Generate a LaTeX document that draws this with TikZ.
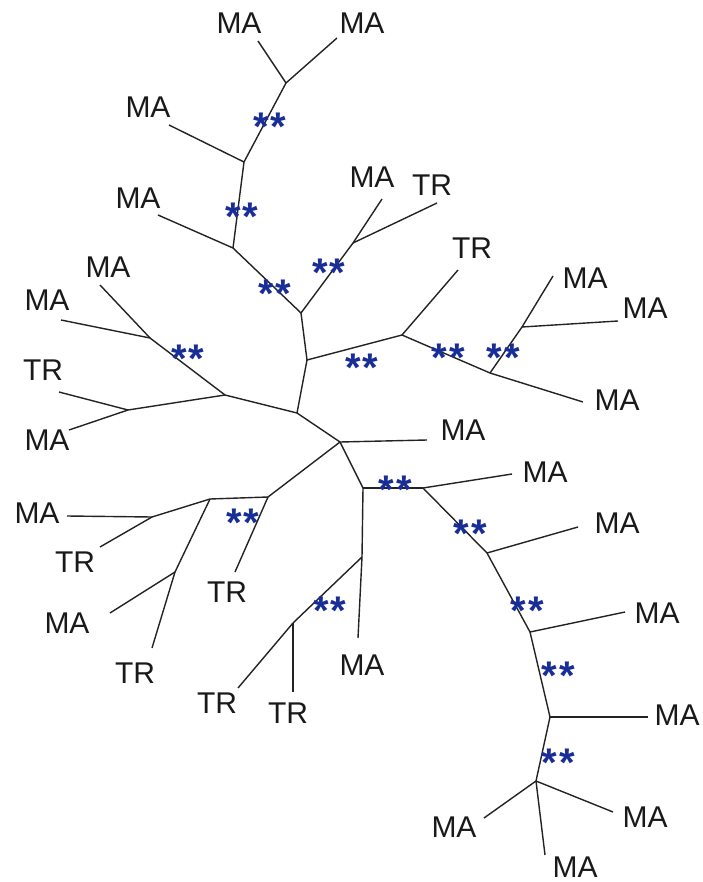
\documentclass[tikz,border=0pt]{standalone}
\usepackage{fontspec}
\setmainfont{Liberation Sans}
\definecolor{branch}{RGB}{35,35,35}
\definecolor{starblue}{RGB}{25,45,150}
\tikzset{
  edge/.style={draw=branch, line width=1.4pt},
  lab/.style={inner sep=0pt, font=\fontsize{30}{34}\selectfont, text=black!90},
  stars/.style={inner sep=0pt, anchor=base, text=starblue, font=\fontsize{40}{44}\selectfont\bfseries}
}
\newcommand{\twostars}{*\hspace{2pt}*}
\begin{document}
\begin{tikzpicture}[x=1pt,y=-1pt]
\useasboundingbox (0,0) rectangle (702,882);
% internal nodes
\coordinate (nA) at (286,83);
\coordinate (nB) at (244,162);
\coordinate (nC) at (233,248);
\coordinate (nI) at (301,313);
\coordinate (nD) at (353,243);
\coordinate (nJ) at (307,360);
\coordinate (nL) at (402,335);
\coordinate (nM) at (490,373);
\coordinate (nN) at (522,327);
\coordinate (nH) at (297,413);
\coordinate (nE) at (150,338);
\coordinate (nF) at (225,395);
\coordinate (nG) at (128,410);
\coordinate (nK) at (340,442);
\coordinate (nS) at (268,497);
\coordinate (nT) at (210,499);
\coordinate (nU) at (152,517);
\coordinate (nV) at (175,572);
\coordinate (nP) at (363,488);
\coordinate (nQ) at (362,557);
\coordinate (nR) at (293,623);
\coordinate (nW) at (423,488);
\coordinate (nX) at (487,553);
\coordinate (nY) at (530,632);
\coordinate (nZ) at (550,717);
\coordinate (nAA) at (536,781);
% leaf ends
\coordinate (l1) at (258,41);
\coordinate (l2) at (337,38);
\coordinate (l3) at (169,125);
\coordinate (l4) at (158,215);
\coordinate (l5) at (382,199);
\coordinate (l6) at (437,203);
\coordinate (l7) at (458,270);
\coordinate (l8) at (583,402);
\coordinate (l9) at (553,276);
\coordinate (l10) at (618,321);
\coordinate (l11) at (100,285);
\coordinate (l12) at (61,320);
\coordinate (l13) at (59,392);
\coordinate (l14) at (69,430);
\coordinate (l15) at (427,440);
\coordinate (l16) at (235,572);
\coordinate (l17) at (67,516);
\coordinate (l18) at (100,547);
\coordinate (l19) at (110,613);
\coordinate (l20) at (152,648);
\coordinate (l21) at (358,638);
\coordinate (l22) at (238,688);
\coordinate (l23) at (293,692);
\coordinate (l24) at (512,474);
\coordinate (l25) at (578,527);
\coordinate (l26) at (625,612);
\coordinate (l27) at (648,717);
\coordinate (l28) at (484,818);
\coordinate (l29) at (613,812);
\coordinate (l30) at (545,855);
% branches
\draw[edge] (nA) -- (l1);
\draw[edge] (nA) -- (l2);
\draw[edge] (nA) -- (nB);
\draw[edge] (nB) -- (l3);
\draw[edge] (nB) -- (nC);
\draw[edge] (nC) -- (l4);
\draw[edge] (nC) -- (nI);
\draw[edge] (nI) -- (nD);
\draw[edge] (nD) -- (l5);
\draw[edge] (nD) -- (l6);
\draw[edge] (nI) -- (nJ);
\draw[edge] (nJ) -- (nL);
\draw[edge] (nL) -- (l7);
\draw[edge] (nL) -- (nM);
\draw[edge] (nM) -- (l8);
\draw[edge] (nM) -- (nN);
\draw[edge] (nN) -- (l9);
\draw[edge] (nN) -- (l10);
\draw[edge] (nJ) -- (nH);
\draw[edge] (nH) -- (nF);
\draw[edge] (nF) -- (nE);
\draw[edge] (nE) -- (l11);
\draw[edge] (nE) -- (l12);
\draw[edge] (nF) -- (nG);
\draw[edge] (nG) -- (l13);
\draw[edge] (nG) -- (l14);
\draw[edge] (nH) -- (nK);
\draw[edge] (nK) -- (l15);
\draw[edge] (nK) -- (nS);
\draw[edge] (nS) -- (l16);
\draw[edge] (nS) -- (nT);
\draw[edge] (nT) -- (nU);
\draw[edge] (nU) -- (l17);
\draw[edge] (nU) -- (l18);
\draw[edge] (nT) -- (nV);
\draw[edge] (nV) -- (l19);
\draw[edge] (nV) -- (l20);
\draw[edge] (nK) -- (nP);
\draw[edge] (nP) -- (nQ);
\draw[edge] (nQ) -- (l21);
\draw[edge] (nQ) -- (nR);
\draw[edge] (nR) -- (l22);
\draw[edge] (nR) -- (l23);
\draw[edge] (nP) -- (nW);
\draw[edge] (nW) -- (l24);
\draw[edge] (nW) -- (nX);
\draw[edge] (nX) -- (l25);
\draw[edge] (nX) -- (nY);
\draw[edge] (nY) -- (l26);
\draw[edge] (nY) -- (nZ);
\draw[edge] (nZ) -- (l27);
\draw[edge] (nZ) -- (nAA);
\draw[edge] (nAA) -- (l28);
\draw[edge] (nAA) -- (l29);
\draw[edge] (nAA) -- (l30);
% labels
\node[lab] (t1) at (239,23) {MA};
\node[lab] (t2) at (362,23) {MA};
\node[lab] (t3) at (148,107) {MA};
\node[lab] (t4) at (138,198) {MA};
\node[lab] (t5) at (372,177) {MA};
\node[lab] (t6) at (432,185) {TR};
\node[lab] (t7) at (472,248) {TR};
\node[lab] (t8) at (617,400) {MA};
\node[lab] (t9) at (585,278) {MA};
\node[lab] (t10) at (645,308) {MA};
\node[lab] (t11) at (108,267) {MA};
\node[lab] (t12) at (47,300) {MA};
\node[lab] (t13) at (43,370) {TR};
\node[lab] (t14) at (47,440) {MA};
\node[lab] (t15) at (463,430) {MA};
\node[lab] (t16) at (227,592) {TR};
\node[lab] (t17) at (37,513) {MA};
\node[lab] (t18) at (75,562) {TR};
\node[lab] (t19) at (67,623) {MA};
\node[lab] (t20) at (135,673) {TR};
\node[lab] (t21) at (362,665) {MA};
\node[lab] (t22) at (217,703) {TR};
\node[lab] (t23) at (288,713) {TR};
\node[lab] (t24) at (545,472) {MA};
\node[lab] (t25) at (617,523) {MA};
\node[lab] (t26) at (657,613) {MA};
\node[lab] (t27) at (677,715) {MA};
\node[lab] (t28) at (454,827) {MA};
\node[lab] (t29) at (645,817) {MA};
\node[lab] (t30) at (575,867) {MA};
% stars (base anchor shifted so the asterisks sit on the given centre)
\node[stars] (s1) at (270,141) {\twostars};
\node[stars] (s2) at (242,231) {\twostars};
\node[stars] (s3) at (275,307) {\twostars};
\node[stars] (s4) at (329,286) {\twostars};
\node[stars] (s5) at (188,372) {\twostars};
\node[stars] (s6) at (362,381) {\twostars};
\node[stars] (s7) at (448,371) {\twostars};
\node[stars] (s8) at (503,371) {\twostars};
\node[stars] (s9) at (243,536) {\twostars};
\node[stars] (s10) at (330,624) {\twostars};
\node[stars] (s11) at (395,503) {\twostars};
\node[stars] (s12) at (470,547) {\twostars};
\node[stars] (s13) at (527,624) {\twostars};
\node[stars] (s14) at (558,689) {\twostars};
\node[stars] (s15) at (558,776) {\twostars};
\end{tikzpicture}
\end{document}
